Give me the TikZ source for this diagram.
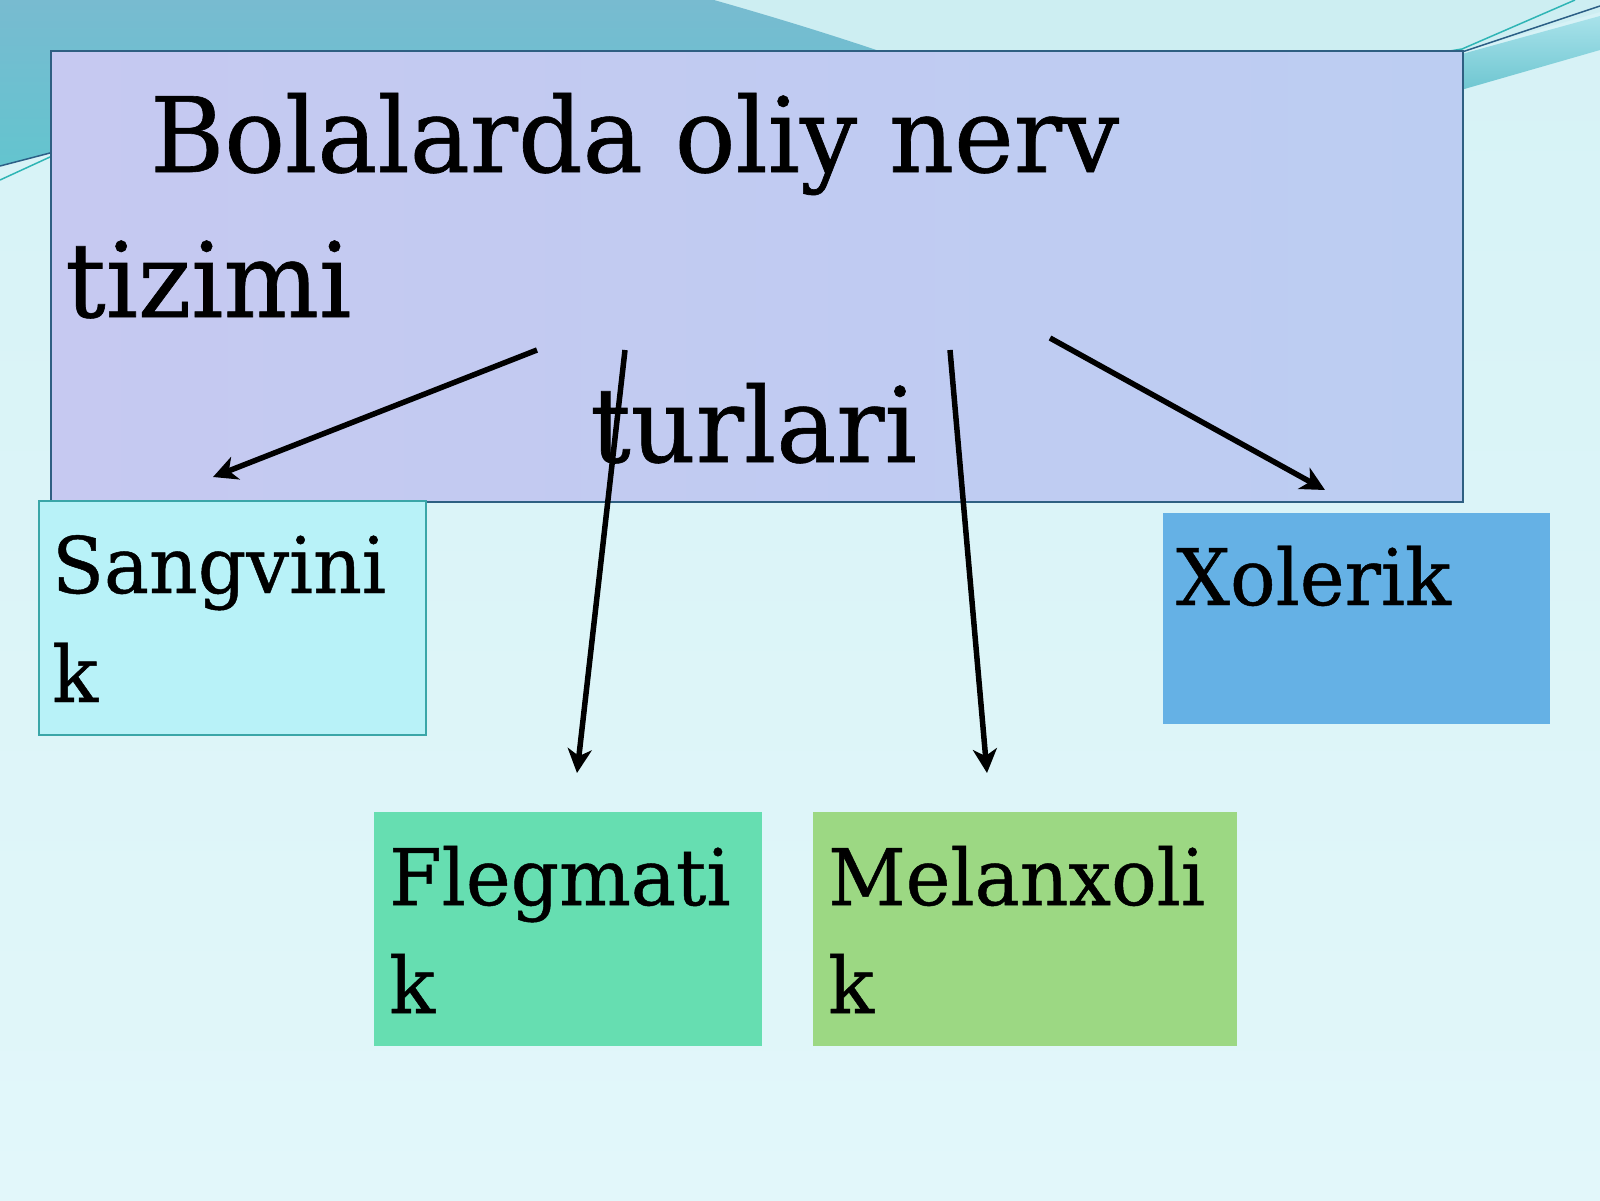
\documentclass[tikz,border=0pt]{standalone}
\usepackage{fontspec}
\setmainfont{DejaVu Serif}
\newfontfamily\slidefont[FakeBold=0.6,FakeStretch=0.97]{DejaVu Serif}
\usetikzlibrary{arrows.meta}
\definecolor{bgtop}{HTML}{D6F2F6}
\definecolor{bgbot}{HTML}{E2F7FA}
\definecolor{circ}{HTML}{CDEEF2}
\definecolor{tealA}{HTML}{78BBD0}
\definecolor{tealB}{HTML}{5FC6CF}
\definecolor{bandc}{HTML}{6AC4CF}
\definecolor{bandl}{HTML}{A8E2EA}
\definecolor{swdark}{HTML}{2C5F86}
\definecolor{swteal}{HTML}{2FB5B5}
\definecolor{titleL}{HTML}{C6C9F1}
\definecolor{titleR}{HTML}{BCCDF2}
\definecolor{titleB}{HTML}{2E5F82}
\definecolor{sangF}{HTML}{B8F2F8}
\definecolor{sangB}{HTML}{3AA6A8}
\definecolor{flegF}{HTML}{66DEB1}
\definecolor{melF}{HTML}{9CD883}
\definecolor{xolF}{HTML}{65B1E5}
\tikzset{
  bigtxt/.style={anchor=base west, inner sep=0pt, font=\slidefont\fontsize{104}{104}\selectfont},
  boxtxt/.style={anchor=base west, inner sep=0pt, font=\slidefont\fontsize{78}{78}\selectfont},
  plainbox/.style={anchor=north west, inner sep=0pt, draw=none},
  conn/.style={line width=5.5pt, draw=black, -{Stealth[length=24pt,width=24pt,inset=7pt]}}
}
\begin{document}
\begin{tikzpicture}[x=1pt,y=-1pt]
\useasboundingbox (0,0) rectangle (1600,1200);
% background
\shade[top color=bgtop, bottom color=bgbot] (0,0) rectangle (1600,1200);
\begin{scope}
  \clip (0,166) -- (200,114) -- (1440,58) -- (1600,12) -- (1600,0) -- (0,0) -- cycle;
  \fill[circ] (0,0) rectangle (1600,200);
  \shade[top color=tealA, bottom color=tealB] (0,0) -- (714,0) .. controls (770,16) and (830,34) .. (900,58) -- (900,200) -- (0,200) -- cycle;
\end{scope}
\shade[top color=bandl, bottom color=bandc] (1440,60) -- (1600,16) -- (1600,50) -- (1440,96) -- cycle;
\draw[swteal, line width=1.5pt] (0,180) -- (50,157) -- (200,110);
\draw[swdark, line width=1.5pt] (0,166) -- (50,153) -- (200,114);
\draw[swteal, line width=1.5pt] (1420,56) -- (1462,49) -- (1575,0);
\draw[swdark, line width=1.5pt] (1420,60) -- (1462,52) -- (1600,6);
% title box
\node[plainbox, draw=titleB, line width=1.5pt, left color=titleL, right color=titleR,
      minimum width=1412pt, minimum height=451pt] (title) at (50,50) {};
\node[bigtxt] (t1) at (150,172) {Bolalarda oliy nerv};
\node[bigtxt] (t2) at (65,317) {tizimi};
\node[bigtxt] (t3) at (590,462) {turlari};
% boxes
\node[plainbox, draw=sangB, line width=1.5pt, fill=sangF, minimum width=387pt, minimum height=234pt] (sang) at (38,500) {};
\node[boxtxt] (sang1) at (52,593) {Sangvini};
\node[boxtxt] (sang2) at (52,702) {k};
\node[plainbox, fill=xolF, minimum width=387pt, minimum height=211pt] (xol) at (1163,513) {};
\node[boxtxt] (xol1) at (1176,605) {Xolerik};
\node[plainbox, fill=flegF, minimum width=388pt, minimum height=234pt] (fleg) at (374,812) {};
\node[boxtxt] (fleg1) at (389,905) {Flegmati};
\node[boxtxt] (fleg2) at (389,1013) {k};
\node[plainbox, fill=melF, minimum width=424pt, minimum height=234pt] (mel) at (813,812) {};
\node[boxtxt] (mel1) at (828,905) {Melanxoli};
\node[boxtxt] (mel2) at (828,1013) {k};
% connectors
\coordinate (a1s) at (537,350);
\coordinate (a1e) at (213,477);
\coordinate (a2s) at (625,350);
\coordinate (a2e) at (577,773);
\coordinate (a3s) at (950,350);
\coordinate (a3e) at (987,773);
\coordinate (a4s) at (1050,338);
\coordinate (a4e) at (1325,490);
\draw[conn] (a1s) -- (a1e);
\draw[conn] (a2s) -- (a2e);
\draw[conn] (a3s) -- (a3e);
\draw[conn] (a4s) -- (a4e);
\end{tikzpicture}
\end{document}
